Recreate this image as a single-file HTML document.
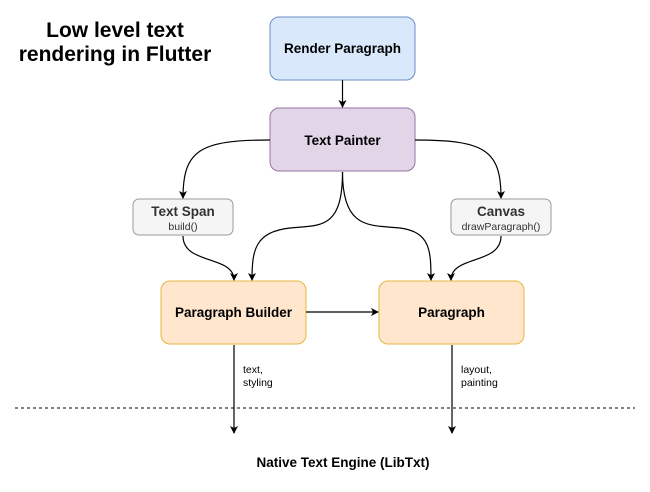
<!DOCTYPE html>
<html><head><style>
body{margin:0;background:#fff;width:650px;height:487px;overflow:hidden;font-family:"Liberation Sans",Arial,sans-serif}
</style></head><body>
<svg width="650" height="487" viewBox="0 0 650 487" xmlns="http://www.w3.org/2000/svg" font-family="Liberation Sans, Arial, sans-serif">
<defs><marker id="a" markerWidth="8" markerHeight="8" refX="7" refY="4" orient="auto" markerUnits="userSpaceOnUse"><path d="M0,0 L8,4 L0,8 L2,4 Z" fill="#000"/></marker></defs>
<text x="115" y="37" font-size="21" font-weight="bold" text-anchor="middle">Low level text</text>
<text x="115" y="61" font-size="21" font-weight="bold" text-anchor="middle">rendering in Flutter</text>
<rect x="270" y="17" width="145" height="63" rx="9" fill="#dae8fc" stroke="#6c8ebf"/>
<text x="342.5" y="53" font-size="13.5" font-weight="bold" text-anchor="middle">Render Paragraph</text>
<rect x="270" y="108" width="145" height="63" rx="9" fill="#e1d5e7" stroke="#9673a6"/>
<text x="342.5" y="145" font-size="13.5" font-weight="bold" text-anchor="middle">Text Painter</text>
<rect x="133" y="199" width="100" height="36" rx="6" fill="#f5f5f5" stroke="#999"/>
<text x="183" y="216" font-size="13.5" font-weight="bold" text-anchor="middle" fill="#333">Text Span</text>
<text x="183" y="230" font-size="10.5" text-anchor="middle" fill="#333">build()</text>
<rect x="451" y="199" width="100" height="36" rx="6" fill="#f5f5f5" stroke="#999"/>
<text x="501" y="216" font-size="13.5" font-weight="bold" text-anchor="middle" fill="#333">Canvas</text>
<text x="501" y="230" font-size="10.5" text-anchor="middle" fill="#333">drawParagraph()</text>
<rect x="161" y="281" width="145" height="63" rx="9" fill="#ffe6cc" stroke="#e5b640"/>
<text x="233.5" y="317" font-size="13.5" font-weight="bold" text-anchor="middle">Paragraph Builder</text>
<rect x="379" y="281" width="145" height="63" rx="9" fill="#ffe6cc" stroke="#e5b640"/>
<text x="451.5" y="317" font-size="13.5" font-weight="bold" text-anchor="middle">Paragraph</text>
<g fill="none" stroke="#000" stroke-width="1.2">
<path d="M342.5,80 V107" marker-end="url(#a)"/>
<path d="M270,140 C200,140 183,150 183,198" marker-end="url(#a)"/>
<path d="M415,140 C485,140 501,150 501,198" marker-end="url(#a)"/>
<path d="M342.5,172 C342.5,230 320,225 290,228 C255,232 252,250 252,280" marker-end="url(#a)"/>
<path d="M342.5,172 C342.5,230 370,225 400,228 C430,232 431,250 431,280" marker-end="url(#a)"/>
<path d="M183,236 C183,265 234,255 234,280" marker-end="url(#a)"/>
<path d="M501,236 C501,265 451,255 451,280" marker-end="url(#a)"/>
<path d="M306,312 H378" marker-end="url(#a)"/>
<path d="M234,345 V433" marker-end="url(#a)"/>
<path d="M452,345 V433" marker-end="url(#a)"/>
</g>
<line x1="15" y1="408" x2="635" y2="408" stroke="#000" stroke-dasharray="3,3"/>
<text x="243" y="373" font-size="10.5">text,</text>
<text x="243" y="386" font-size="10.5">styling</text>
<text x="461" y="373" font-size="10.5">layout,</text>
<text x="461" y="386" font-size="10.5">painting</text>
<text x="343" y="467" font-size="13.5" font-weight="bold" text-anchor="middle">Native Text Engine (LibTxt)</text>
</svg>
</body></html>
